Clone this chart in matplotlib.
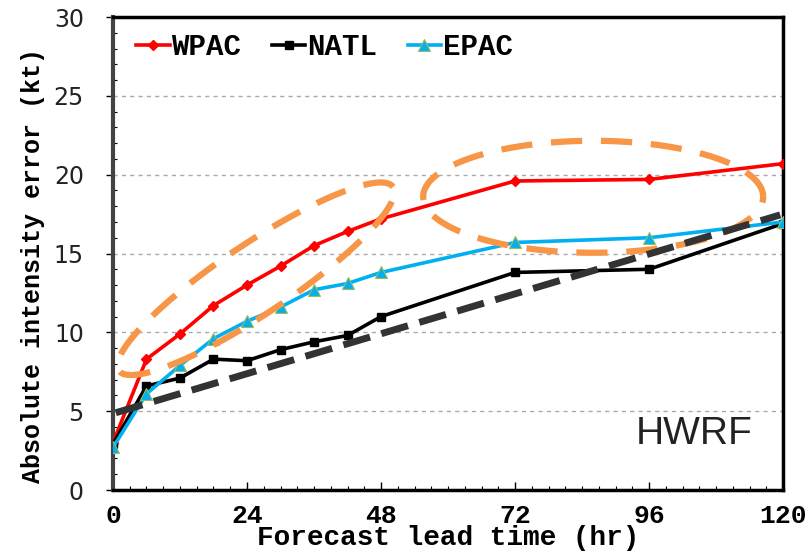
import numpy as np
import matplotlib.pyplot as plt

# forecast lead times (hr)
lead = [0, 6, 12, 18, 24, 30, 36, 42, 48, 72, 96, 120]

# absolute intensity error (kt)
wpac = [3.0, 8.3, 9.9, 11.7, 13.0, 14.2, 15.5, 16.4, 17.2, 19.6, 19.7, 20.7]
natl = [2.9, 6.6, 7.1, 8.3, 8.2, 8.9, 9.4, 9.8, 11.0, 13.8, 14.0, 16.9]
epac = [2.7, 6.1, 7.9, 9.6, 10.7, 11.6, 12.7, 13.1, 13.8, 15.7, 16.0, 17.0]

# linear trend drawn over the curves
trend_x = [0.5, 119.5]
trend_y = [4.9, 17.45]

xticks = [0, 24, 48, 72, 96, 120]
yticks = [0, 5, 10, 15, 20, 25, 30]

mono = 'Liberation Mono'

fig = plt.figure(figsize=(8.10, 5.51), dpi=100)
ax = fig.add_axes([0.1395, 0.1107, 0.8272, 0.8584])

ax.plot(lead, wpac, color='#ff0000', lw=2.6, marker='D', ms=5.5, label='WPAC', zorder=3)
ax.plot(lead, natl, color='black', lw=2.6, marker='s', ms=5.5, label='NATL', zorder=3)
ax.plot(lead, epac, color='#00b0f0', lw=2.6, marker='^', ms=8, mec='#9bbb59', mew=0.8,
        label='EPAC', zorder=3)

ax.set_xlim(0, 120)
ax.set_ylim(0, 30)

# ellipses are defined in pixels (center in data units) so they keep their shape
W = 0.8272 * 810
H = 0.8584 * 551
sx = 120 / W
sy = 30 / H

def draw_ellipse(cx, cy, a, b, ang):
    t = np.linspace(0, 2 * np.pi, 300)
    th = np.radians(ang)
    px = a * np.cos(t) * np.cos(th) - b * np.sin(t) * np.sin(th)
    py = a * np.cos(t) * np.sin(th) + b * np.sin(t) * np.cos(th)
    ax.plot(cx + px * sx, cy + py * sy, color='#f79646', lw=4.5,
            ls=(0, (5, 3)), dash_capstyle='butt', zorder=4, clip_on=False)

draw_ellipse(25.6, 13.4, 165, 35, 33.8)
draw_ellipse(86.0, 18.6, 170, 56, 0)

ax.plot(trend_x, trend_y, color='#333333', lw=5, ls=(0, (4, 1.7)),
        dash_capstyle='butt', zorder=5)

ax.set_xticks(xticks)
ax.set_xticks(np.arange(0, 121, 3), minor=True)
ax.set_yticks(yticks)
ax.set_yticks(np.arange(0, 31, 1), minor=True)
ax.tick_params(axis='x', which='major', direction='in', length=6, width=1, pad=10)
ax.tick_params(axis='x', which='minor', direction='in', length=3, width=0.8)
ax.tick_params(axis='y', which='major', direction='out', length=5, width=1, pad=16)
ax.tick_params(axis='y', which='minor', direction='in', length=3, width=0.8)
ax.grid(axis='y', which='major', color='#aaaaaa', ls=(0, (3, 3)), lw=1)

for lbl in ax.get_xticklabels():
    lbl.set_fontfamily(mono)
    lbl.set_fontweight('bold')
    lbl.set_fontsize(19)
for lbl in ax.get_yticklabels():
    lbl.set_fontfamily('DejaVu Sans')
    lbl.set_fontsize(17)
    lbl.set_color('#222222')

for side in ['top', 'right', 'bottom']:
    ax.spines[side].set_linewidth(2.5)
    ax.spines[side].set_color('black')
ax.spines['left'].set_linewidth(3)
ax.spines['left'].set_color('#444444')

ax.set_xlabel('Forecast lead time (hr)', family=mono, weight='bold', fontsize=20)
ax.xaxis.set_label_coords(0.5, -0.074)
ax.xaxis.label.set_va('top')
ax.set_ylabel('Absolute intensity error (kt)', family=mono, weight='bold', fontsize=18)
ax.yaxis.set_label_coords(-0.1015, 0.474)

ax.text(0.955, 0.08, 'HWRF', transform=ax.transAxes, ha='right', va='bottom',
        family='Liberation Sans', fontsize=28, color='#222222')

ax.legend(loc='center left', bbox_to_anchor=(0.0, 0.937), ncol=3, frameon=False,
          prop={'family': mono, 'weight': 'bold', 'size': 21},
          handlelength=1.15, handletextpad=0.05, columnspacing=1.05, borderaxespad=0.4)

fig.savefig('out.png', dpi=100)
